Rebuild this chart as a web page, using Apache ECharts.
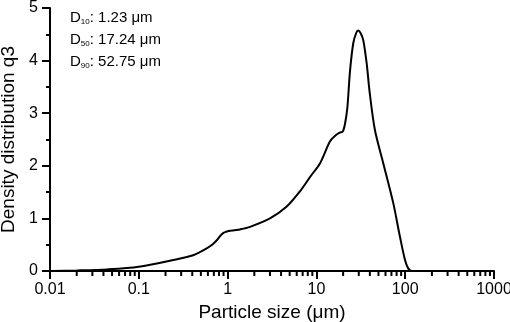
<!DOCTYPE html>
<html>
<head>
<meta charset="utf-8">
<script src="https://cdn.jsdelivr.net/npm/echarts@6/dist/echarts.min.js"></script>
<style>
  html, body { margin: 0; padding: 0; background: #fff; }
  #chart { width: 510px; height: 322px; }
</style>
</head>
<body>
<div id="chart"></div>
<script>
// particle size (µm) and density distribution q3
const sizes = [0.01, 0.02, 0.044, 0.1, 0.245, 0.41, 0.58, 0.68, 0.76, 0.81, 0.86, 0.91, 0.96, 1.03,
  1.2, 1.38, 1.79, 3.0, 4.6, 6.5, 8.5, 11, 14.2, 16.5, 18.3, 19.8, 21.0, 22.3, 23.9, 26, 28,
  29.6, 31.5, 33.7, 36.8, 39.9, 45.6, 56.6, 73.4, 87.3, 99.5, 108, 118, 125]
const q3 = [0, 0.01, 0.03, 0.08, 0.21, 0.30, 0.43, 0.51, 0.59, 0.65, 0.70, 0.73, 0.745, 0.76,
  0.775, 0.79, 0.84, 1.00, 1.22, 1.51, 1.79, 2.05, 2.46, 2.58, 2.63, 2.65, 2.80, 3.10, 3.80, 4.33, 4.52,
  4.57, 4.52, 4.39, 3.95, 3.38, 2.68, 2.05, 1.29, 0.65, 0.21, 0.05, 0, 0]
// minor ticks 2..9 of every decade
const minorX = []
for (let e = -2; e < 3; e++) {
  for (let k = 2; k < 10; k++) minorX.push(+(k * Math.pow(10, e)).toPrecision(3))
}
const stats = [['10', '1.23'], ['50', '17.24'], ['90', '52.75']]

const font = 'Liberation Sans, Arial, sans-serif'
const chart = echarts.init(document.getElementById('chart'))

chart.setOption({
  animation: false,
  grid: { left: 50, right: 16, top: 8, bottom: 51, outerBoundsMode: 'none', containLabel: false },
  xAxis: {
    type: 'log',
    logBase: 10,
    min: 0.01,
    max: 1000,
    splitLine: { show: false },
    name: 'Particle size (μm)',
    nameLocation: 'middle',
    nameGap: 26,
    nameTextStyle: { fontFamily: font, fontSize: 19, color: '#000' },
    axisLine: { onZero: false, lineStyle: { color: '#000', width: 2 } },
    axisTick: { show: true, inside: false, length: 8, lineStyle: { color: '#000', width: 2 } },
    axisLabel: {
      margin: 11,
      fontFamily: font,
      fontSize: 16,
      color: '#000',
      formatter: v => String(Number(v.toPrecision(3)))
    }
  },
  yAxis: {
    type: 'value',
    min: 0,
    max: 5,
    interval: 1,
    name: 'Density distribution q3',
    nameLocation: 'middle',
    nameGap: 28,
    nameTextStyle: { fontFamily: font, fontSize: 19, color: '#000' },
    splitLine: { show: false },
    axisLine: { show: true, onZero: false, lineStyle: { color: '#000', width: 2 } },
    axisTick: { show: true, length: 8, lineStyle: { color: '#000', width: 2 } },
    minorTick: { show: true, splitNumber: 2, length: 4, lineStyle: { color: '#000', width: 2 } },
    axisLabel: { margin: 12, fontFamily: font, fontSize: 16, color: '#000' }
  },
  graphic: stats.map((s, i) => ({
    type: 'text',
    left: 70,
    top: 10 + i * 22,
    style: {
      text: '{d|D}{s|' + s[0] + '}{d|: ' + s[1] + ' μm}',
      rich: {
        d: { fontFamily: font, fontSize: 15, color: '#000', lineHeight: 16 },
        s: { fontFamily: font, fontSize: 8, color: '#000', lineHeight: 8, verticalAlign: 'bottom', padding: [5, 0, 0, 0] }
      }
    }
  })),
  series: [
    {
      type: 'line',
      data: sizes.map((x, i) => [x, q3[i]]),
      smooth: 0.3,
      showSymbol: false,
      lineStyle: { color: '#000', width: 2 }
    },
    {
      // minor log ticks under the x axis
      type: 'custom',
      silent: true,
      clip: false,
      z: 10,
      data: minorX.map(x => [x, 0]),
      encode: { x: 0, y: 1 },
      renderItem: (params, api) => {
        const p = api.coord([api.value(0), 0])
        return {
          type: 'line',
          shape: { x1: p[0], y1: p[1], x2: p[0], y2: p[1] + 5 },
          style: { stroke: '#000', lineWidth: 2 }
        }
      }
    }
  ]
})
</script>
</body>
</html>
